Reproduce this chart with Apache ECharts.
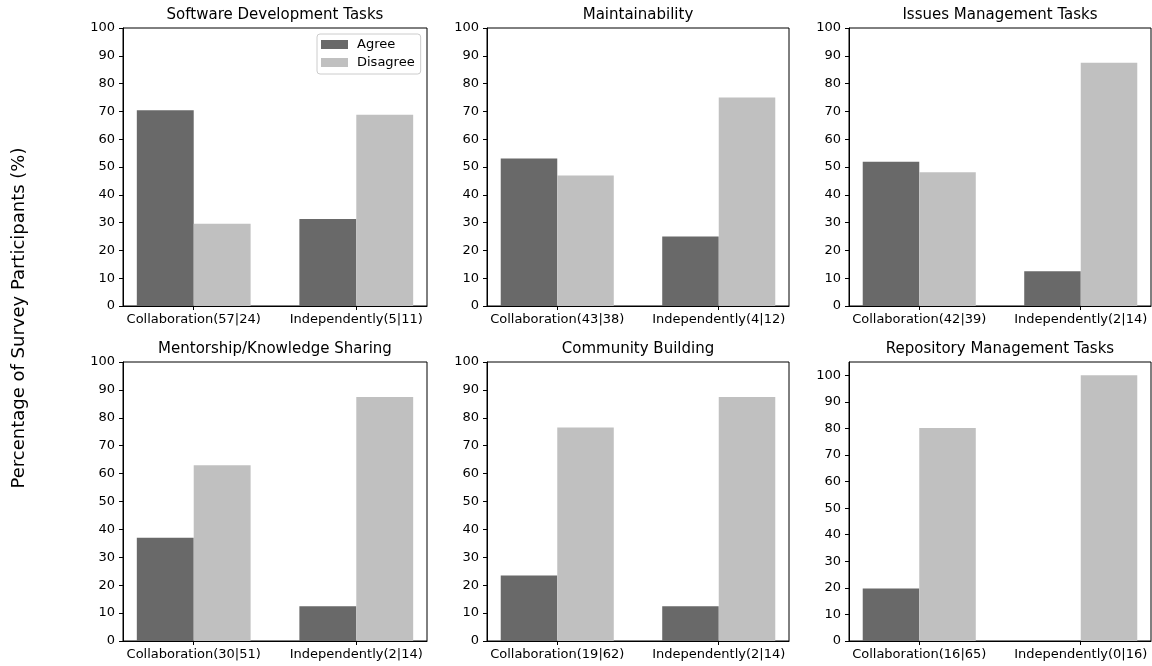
<!DOCTYPE html>
<html>
<head>
<meta charset="utf-8">
<script src="https://cdn.jsdelivr.net/npm/echarts@6/dist/echarts.min.js"></script>
<style>
  html, body { margin: 0; padding: 0; background: #fff; }
  #chart { width: 1152px; height: 666px; }
</style>
</head>
<body>
<div id="chart"></div>
<script>
// panel data (percent of participants, counts shown in labels)
const panelTitles = [
  'Software Development Tasks',
  'Maintainability',
  'Issues Management Tasks',
  'Mentorship/Knowledge Sharing',
  'Community Building',
  'Repository Management Tasks'
];
const categories = [
  ['Collaboration(57|24)', 'Independently(5|11)'],
  ['Collaboration(43|38)', 'Independently(4|12)'],
  ['Collaboration(42|39)', 'Independently(2|14)'],
  ['Collaboration(30|51)', 'Independently(2|14)'],
  ['Collaboration(19|62)', 'Independently(2|14)'],
  ['Collaboration(16|65)', 'Independently(0|16)']
];
const agree = [
  [70.4, 31.3],
  [53.1, 25.0],
  [51.9, 12.5],
  [37.0, 12.5],
  [23.5, 12.5],
  [19.8, 0]
];
const disagree = [
  [29.6, 68.8],
  [46.9, 75.0],
  [48.1, 87.5],
  [63.0, 87.5],
  [76.5, 87.5],
  [80.2, 100]
];
const yTicks = [0, 10, 20, 30, 40, 50, 60, 70, 80, 90, 100];
const yMax = [100, 100, 100, 100, 100, 105];

const FONT = 'DejaVu Sans';
const AGREE_COLOR = '#696969';
const DISAGREE_COLOR = '#c0c0c0';

const cols = [{ left: 123, width: 304 }, { left: 487, width: 302 }, { left: 849, width: 302 }];
const rows = [{ top: 28, height: 278 }, { top: 362, height: 279 }];
const titleY = [15, 349];

const grid = [], xAxis = [], yAxis = [], series = [], graphic = [];

panelTitles.forEach((title, i) => {
  const c = cols[i % 3], r = rows[Math.floor(i / 3)];
  grid.push({
    left: c.left, top: r.top, width: c.width, height: r.height,
    show: true, borderColor: '#000', borderWidth: 1, backgroundColor: 'transparent'
  });
  const cats = categories[i];
  xAxis.push({
    type: 'value', gridIndex: i, min: -0.435, max: 1.435,
    axisLine: { show: true, onZero: false, lineStyle: { color: '#000', width: 1 } },
    axisTick: { show: true, length: 4, customValues: [0, 1], lineStyle: { color: '#000' } },
    axisLabel: {
      customValues: [0, 1], margin: 7, color: '#000', fontSize: 13, fontFamily: FONT,
      formatter: v => cats[Math.round(v)]
    },
    splitLine: { show: false }
  });
  yAxis.push({
    type: 'value', gridIndex: i, min: 0, max: yMax[i],
    axisLine: { show: true, onZero: false, lineStyle: { color: '#000', width: 1 } },
    axisTick: { show: true, length: 4, customValues: yTicks, lineStyle: { color: '#000' } },
    axisLabel: { customValues: yTicks, margin: 8, color: '#000', fontSize: 13, fontFamily: FONT },
    splitLine: { show: false }
  });
  series.push({
    name: 'Agree', type: 'bar', xAxisIndex: i, yAxisIndex: i,
    barWidth: '35%', barGap: '0%',
    itemStyle: { color: AGREE_COLOR },
    data: agree[i].map((v, k) => [k, v])
  });
  series.push({
    name: 'Disagree', type: 'bar', xAxisIndex: i, yAxisIndex: i,
    barWidth: '35%', barGap: '0%',
    itemStyle: { color: DISAGREE_COLOR },
    data: disagree[i].map((v, k) => [k, v])
  });
  graphic.push({
    type: 'text', x: c.left + c.width / 2, y: titleY[Math.floor(i / 3)],
    style: { text: title, fill: '#000', fontSize: 15, fontFamily: FONT, textAlign: 'center', textVerticalAlign: 'middle' }
  });
});

graphic.push({
  type: 'text', x: 19, y: 318, rotation: Math.PI / 2,
  style: {
    text: 'Percentage of Survey Participants (%)', fill: '#000', fontSize: 18, fontFamily: FONT,
    textAlign: 'center', textVerticalAlign: 'middle'
  }
});

const chart = echarts.init(document.getElementById('chart'), null, { renderer: 'canvas' });
chart.setOption({
  animation: false,
  backgroundColor: '#fff',
  textStyle: { fontFamily: FONT },
  legend: {
    data: ['Agree', 'Disagree'],
    orient: 'vertical', left: 317, top: 34,
    icon: 'rect', itemWidth: 27, itemHeight: 9, itemGap: 5,
    padding: [4, 6, 5, 4],
    borderColor: '#cccccc', borderWidth: 1, borderRadius: 3,
    backgroundColor: 'rgba(255,255,255,0.8)',
    textStyle: { color: '#000', fontSize: 13, fontFamily: FONT, padding: [0, 0, 0, 4] }
  },
  grid, xAxis, yAxis, series, graphic
});
</script>
</body>
</html>
